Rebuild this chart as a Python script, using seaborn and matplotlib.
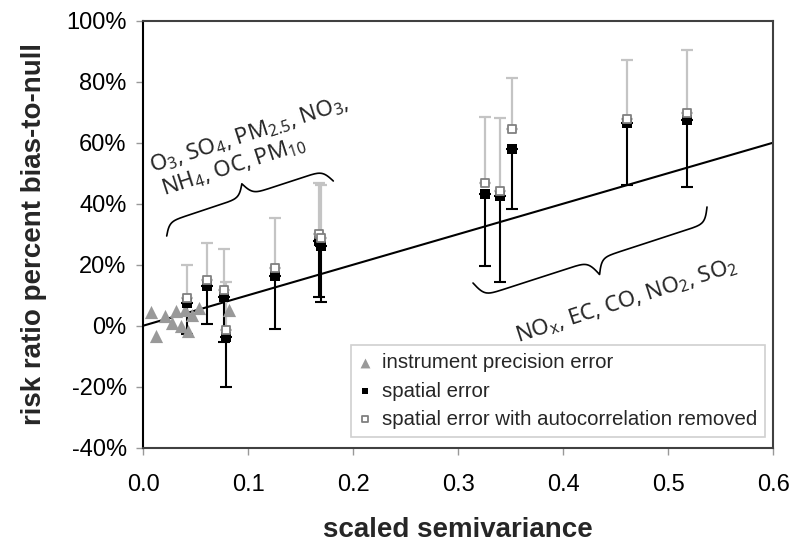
import numpy as np
import matplotlib
matplotlib.use("Agg")
import matplotlib.pyplot as plt
import seaborn as sns
from matplotlib.ticker import FuncFormatter

# instrument precision error (gray triangles)
tri_x = [0.007, 0.012, 0.021, 0.027, 0.031, 0.036, 0.040, 0.043, 0.046, 0.053, 0.082]
tri_y = [4.6, -3.4, 3.2, 0.8, 4.8, -0.1, 5.1, -1.6, 3.5, 5.9, 5.1]

# spatial error (black squares, lower bars) and autocorrelation removed (open squares, upper bars)
sp_x = [0.042, 0.061, 0.077, 0.079, 0.125, 0.167, 0.169, 0.325, 0.340, 0.351, 0.461, 0.518]
sp_y = [7.5, 13.0, 9.5, -3.8, 16.3, 27.8, 26.0, 43.2, 42.6, 57.8, 66.3, 67.4]
sp_low = [-2.8, 0.6, -5.2, -20.2, -1.2, 9.5, 7.9, 19.7, 14.4, 38.2, 46.1, 45.3]
ac_y = [9.2, 15.1, 11.7, -1.4, 18.8, 30.2, 28.6, 46.9, 44.3, 64.4, 67.9, 69.8]
ac_high = [19.9, 27.0, 25.0, 14.4, 35.4, 46.9, 46.1, 68.3, 68.2, 81.1, 87.1, 90.2]

# 1:1 reference line
line_x = [0.0, 0.6]
line_y = [0.0, 60.0]

sns.set_theme(style="white")
plt.rcParams['font.family'] = ['Liberation Sans', 'DejaVu Sans']
plt.rcParams['mathtext.fontset'] = 'custom'
plt.rcParams['mathtext.rm'] = 'Noto Sans'
plt.rcParams['mathtext.it'] = 'Noto Sans:italic'

W, H = 794, 542
fig, ax = plt.subplots(figsize=(W / 100, H / 100), dpi=100)
fig.subplots_adjust(left=0.1805, right=0.974, bottom=0.174, top=0.962)

ax.plot(line_x, line_y, color='black', lw=1.5, zorder=2)

# error bars (one sided)
sp_err = [np.array(sp_y) - np.array(sp_low), np.zeros(len(sp_y))]
ac_err = [np.zeros(len(ac_y)), np.array(ac_high) - np.array(ac_y)]
ax.errorbar(sp_x, ac_y, yerr=ac_err, fmt='none', ecolor='#c4c4c4', elinewidth=1.6,
            capsize=4, capthick=1.6, zorder=3)
ax.errorbar(sp_x, sp_y, yerr=sp_err, fmt='none', ecolor='black', elinewidth=1.5,
            capsize=4, capthick=1.5, zorder=4)

sns.scatterplot(x=tri_x, y=tri_y, marker='^', color='#999999', s=90, linewidth=0,
                label='instrument precision error', ax=ax, zorder=5)
sns.scatterplot(x=sp_x, y=sp_y, marker='s', color='black', s=45, linewidth=0,
                label='spatial error', ax=ax, zorder=6)
sns.scatterplot(x=sp_x, y=ac_y, marker='s', facecolor='white', edgecolor='#808080',
                s=32, linewidth=1.3, label='spatial error with autocorrelation removed',
                ax=ax, zorder=7)

ax.set_xlim(0, 0.6)
ax.set_ylim(-40, 100)
ax.set_xticks(np.arange(0, 0.61, 0.1))
ax.set_yticks(np.arange(-40, 101, 20))
ax.xaxis.set_major_formatter(FuncFormatter(lambda v, p: f"{v:.1f}"))
ax.yaxis.set_major_formatter(FuncFormatter(lambda v, p: f"{v:.0f}%"))
ax.tick_params(axis='both', bottom=True, left=True, direction='out', length=5,
               width=1, color='#999999', labelsize=17, labelcolor='black')
ax.tick_params(axis='x', pad=14)
ax.tick_params(axis='y', pad=7)

for side in ['top', 'right', 'bottom']:
    ax.spines[side].set_color('#404040')
    ax.spines[side].set_linewidth(1.5)
ax.spines['left'].set_color('black')
ax.spines['left'].set_linewidth(1.5)

ax.set_xlabel('scaled semivariance', fontsize=20, fontweight='bold', labelpad=15)
ax.set_ylabel('risk ratio percent bias-to-null', fontsize=20, fontweight='bold', labelpad=14)

leg = ax.legend(loc='lower right', bbox_to_anchor=(0.987, 0.025), fontsize=14.7,
                frameon=True, fancybox=False, edgecolor='#d0d0d0', framealpha=1,
                markerscale=0.75, handlelength=0.6, handletextpad=0.5,
                labelspacing=0.45, borderpad=0.4, borderaxespad=0)
leg.get_frame().set_linewidth(1.2)


def px(x, y):
    return x / W, 1 - y / H


def brace(p0, p1, h, sign):
    p0 = np.array(p0, float)
    p1 = np.array(p1, float)
    L = np.hypot(*(p1 - p0))
    u = (p1 - p0) / L
    n = sign * np.array([u[1], -u[0]])
    t = np.linspace(0, L / 2, 200)
    beta = 0.28
    yh = 1 / (1 + np.exp(-beta * t)) + 1 / (1 + np.exp(-beta * (t - L / 2)))
    yh = (yh - yh[0]) / (yh[-1] - yh[0]) * h
    s = np.concatenate([t, L - t[::-1]])
    y = np.concatenate([yh, yh[::-1]])
    pts = p0[None, :] + s[:, None] * u[None, :] + y[:, None] * n[None, :]
    fx, fy = px(pts[:, 0], pts[:, 1])
    fig.add_artist(plt.Line2D(fx, fy, color='black', lw=1.2, transform=fig.transFigure))


brace((166.7, 236), (333.3, 181), 26, 1)
brace((473, 283), (707, 207), 31, -1)

txt = dict(family=['Noto Sans'], fontsize=16, ha='center', va='center',
           rotation=18, rotation_mode='anchor', transform=fig.transFigure)
fig.text(*px(249, 135), r'O$_\mathrm{3}$, SO$_\mathrm{4}$, PM$_\mathrm{2.5}$, NO$_\mathrm{3}$,', **txt)
fig.text(*px(234, 166), r'NH$_\mathrm{4}$, OC, PM$_\mathrm{10}$', **txt)
fig.text(*px(627, 301), r'NO$_\mathrm{x}$, EC, CO, NO$_\mathrm{2}$, SO$_\mathrm{2}$', **txt)

fig.savefig('out.png', dpi=100)
